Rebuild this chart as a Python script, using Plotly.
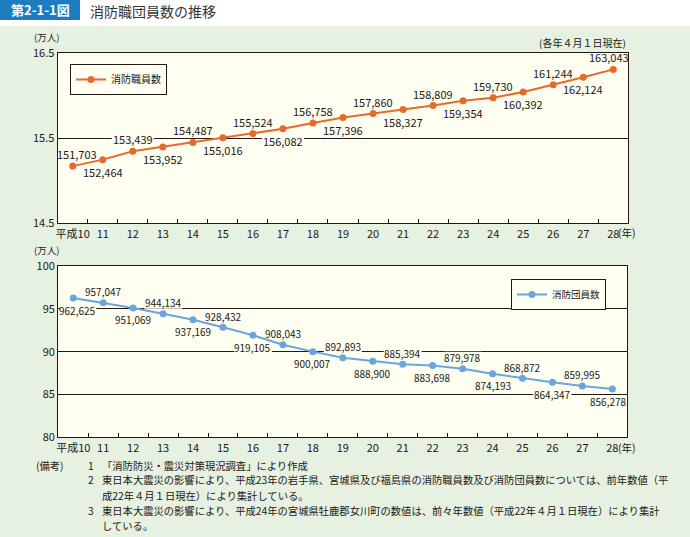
import plotly.graph_objects as go

years = ["平成10", "11", "12", "13", "14", "15", "16", "17", "18", "19",
         "20", "21", "22", "23", "24", "25", "26", "27", "28"]
staff = [151703, 152464, 153439, 153952, 154487, 155016, 155524, 156082, 156758, 157396,
         157860, 158327, 158809, 159354, 159730, 160392, 161244, 162124, 163043]
volunteers = [962625, 957047, 951069, 944134, 937169, 928432, 919105, 908043, 900007, 892893,
              888900, 885394, 883698, 879978, 874193, 868872, 864347, 859995, 856278]
top_ticks = [14.5, 15.5, 16.5]
bottom_ticks = [80, 85, 90, 95, 100]

W, H = 690, 537
FONT = "Noto Sans CJK JP"
DARK = "#231815"
ORANGE = "#e8692c"
BLUE = "#6aa5dd"
PLOTBG = "#fefef1"
PAPERBG = "#e6f1e1"


def px(x):
    return x / W


def py(y):
    return 1 - y / H


fig = go.Figure()
fig.add_trace(go.Scatter(
    x=years, y=[v / 10000 for v in staff], mode="lines+markers", name="消防職員数",
    line=dict(color=ORANGE, width=2), marker=dict(size=7, color=ORANGE),
    xaxis="x", yaxis="y", legend="legend"))
fig.add_trace(go.Scatter(
    x=years, y=[v / 10000 for v in volunteers], mode="lines+markers", name="消防団員数",
    line=dict(color=BLUE, width=2), marker=dict(size=7, color=BLUE),
    xaxis="x2", yaxis="y2", legend="legend2"))

annotations = []
shapes = [
    dict(type="rect", xref="paper", yref="paper", x0=0, x1=1, y0=py(26), y1=1,
         fillcolor="white", line=dict(width=0), layer="below"),
    dict(type="rect", xref="paper", yref="paper", x0=0, x1=px(80), y0=py(20), y1=1,
         fillcolor="#1c7dc1", line=dict(width=0), layer="below"),
]

EDGE = 13  # pixels between an end point and the plot frame, minus a little
last = len(years) - 1


def label(i, v, xr, yr, shift, size, half_w):
    xs = 4 if i == 0 else (-4 if i == last else 0)
    annotations.append(dict(
        x=i, y=v / 10000, xref=xr, yref=yr, text=f"{v:,}", showarrow=False,
        xshift=xs, yshift=shift, font=dict(family=FONT, size=size, color=DARK)))
    x0, x1 = xs - half_w, xs + half_w
    if i == 0:
        x0 = max(x0, -EDGE)
    if i == last:
        x1 = min(x1, EDGE)
    # cream patch under the label: hides gridlines, stays beneath the data line
    shapes.append(dict(
        type="rect", xref=xr, yref=yr, xsizemode="pixel", ysizemode="pixel",
        xanchor=i, yanchor=v / 10000, x0=x0, x1=x1, y0=shift - 6, y1=shift + 6,
        fillcolor=PLOTBG, line=dict(width=0), layer="between"))


for i, v in enumerate(staff):
    label(i, v, "x", "y", 12 if i % 2 == 0 else -12, 11, 21)
for i, v in enumerate(volunteers):
    label(i, v, "x2", "y2", -12 if i % 2 == 0 else 11, 10, 19)


def txt(x, y, s, size=11, anchor="left", color=DARK, **kw):
    annotations.append(dict(x=px(x), y=py(y), xref="paper", yref="paper", text=s,
                            showarrow=False, xanchor=anchor, yanchor="middle",
                            font=dict(family=FONT, size=size, color=color), **kw))


txt(40, 10, "<b>第2-1-1図</b>", size=13, anchor="center", color="white")
txt(88, 11, "消防職団員数の推移", size=14, color="#333333")
txt(32, 37.5, "(万人)", size=9.5)
txt(628, 42, "(各年４月１日現在)", size=10, anchor="right")
txt(616, 233, "(年)", size=10.5)
txt(32, 250, "(万人)", size=9.5)
txt(616, 447, "(年)", size=10.5)

notes_y = [465, 480, 495, 510, 525]
NS = 10.3
txt(34, notes_y[0], "(備考)", size=NS)
txt(86, notes_y[0], "1", size=NS)
txt(100, notes_y[0], "「消防防災・震災対策現況調査」により作成", size=NS)
txt(86, notes_y[1], "2", size=NS)
txt(100, notes_y[1], "東日本大震災の影響により、平成23年の岩手県、宮城県及び福島県の消防職員数及び消防団員数については、前年数値（平", size=NS)
txt(100, notes_y[2], "成22年４月１日現在）により集計している。", size=NS)
txt(86, notes_y[3], "3", size=NS)
txt(100, notes_y[3], "東日本大震災の影響により、平成24年の宮城県牡鹿郡女川町の数値は、前々年数値（平成22年４月１日現在）により集計", size=NS)
txt(100, notes_y[4], "している。", size=NS)

xcommon = dict(type="category", range=[-0.5, 18.5], tickson="boundaries", ticks="inside",
               ticklen=4, tickcolor=DARK, tickwidth=1, showline=True, mirror=True,
               linecolor=DARK, linewidth=1.3, showgrid=False, zeroline=False, tickangle=0,
               automargin=False,
               tickfont=dict(family=FONT, size=11, color=DARK), fixedrange=True)
ycommon = dict(showline=True, mirror=True, linecolor=DARK, linewidth=1.3, showgrid=True,
               gridcolor=DARK, gridwidth=1, zeroline=False, ticks="", automargin=False,
               tickfont=dict(family=FONT, size=11, color=DARK), fixedrange=True)

fig.update_layout(
    template="none",
    width=W, height=H, autosize=False,
    margin=dict(l=0, r=0, t=0, b=0, pad=0, autoexpand=False),
    paper_bgcolor=PAPERBG, plot_bgcolor=PLOTBG,
    font=dict(family=FONT, color=DARK),
    xaxis=dict(domain=[px(57.7), px(628.3)], anchor="y", **xcommon),
    yaxis=dict(domain=[py(223.3), py(52.7)], anchor="x", range=[14.5, 16.5],
               tickvals=top_ticks, ticktext=[f"{t:.1f}" for t in top_ticks], **ycommon),
    xaxis2=dict(domain=[px(58.3), px(627.3)], anchor="y2", **xcommon),
    yaxis2=dict(domain=[py(437.3), py(266)], anchor="x2", range=[80, 100],
                tickvals=bottom_ticks, **ycommon),
    legend=dict(x=px(70), y=py(64), xanchor="left", yanchor="top", bgcolor=PLOTBG,
                bordercolor=DARK, borderwidth=1, font=dict(family=FONT, size=10, color=DARK),
                itemwidth=30, tracegroupgap=0),
    legend2=dict(x=px(606), y=py(279), xanchor="right", yanchor="top", bgcolor=PLOTBG,
                 bordercolor=DARK, borderwidth=1, font=dict(family=FONT, size=9.5, color=DARK),
                 itemwidth=30, tracegroupgap=0),
    showlegend=True,
    annotations=annotations,
    shapes=shapes,
)

fig.write_html(
    "out.html", config={"displayModeBar": False},
    post_script=(
        "document.documentElement.style.margin='0';"
        "document.body.style.margin='0';document.body.style.overflow='hidden';"
        "var d=document.querySelector('.plotly-graph-div');"
        "d.style.position='fixed';d.style.left='0';d.style.top='0';"
    ))
